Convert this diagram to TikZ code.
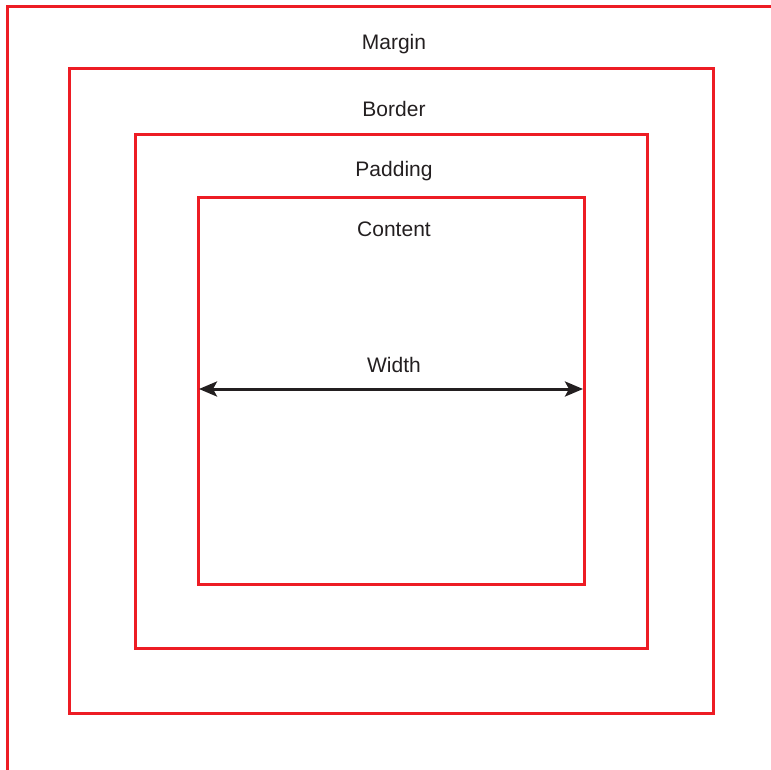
\documentclass[tikz,border=0pt]{standalone}
\usepackage{fontspec}
\setmainfont{Liberation Sans}
\usetikzlibrary{arrows.meta}
\definecolor{boxred}{HTML}{ED1C24}
\definecolor{ink}{HTML}{231F20}
\begin{document}
\begin{tikzpicture}[x=1pt,y=-1pt,
  layer/.style={draw=boxred,line width=3pt},
  lbl/.style={text=ink,font=\fontsize{21}{24}\selectfont,inner sep=0pt},
  dim/.style={draw=ink,line width=3pt,{Stealth[length=18pt,width=15pt,inset=4pt]}-{Stealth[length=18pt,width=15pt,inset=4pt]}}]
  \useasboundingbox (0,0) rectangle (771,770);
  \clip (0,0) rectangle (771,770);
  % nested boxes of the box model
  \draw[layer] (7,7) rectangle (790,790);
  \draw[layer] (69,69) rectangle (713,713);
  \draw[layer] (135,135) rectangle (647,648);
  \draw[layer] (198,198) rectangle (584,584);
  % layer labels
  \node[lbl] (margin) at (394,44) {Margin};
  \node[lbl] (border) at (394,109) {Border};
  \node[lbl] (padding) at (394,171) {Padding};
  \node[lbl] (content) at (394,229) {Content};
  \node[lbl] (width) at (394,365) {Width};
  % content width dimension
  \coordinate (wl) at (199,389);
  \coordinate (wr) at (583,389);
  \draw[dim] (wl) -- (wr);
\end{tikzpicture}
\end{document}
